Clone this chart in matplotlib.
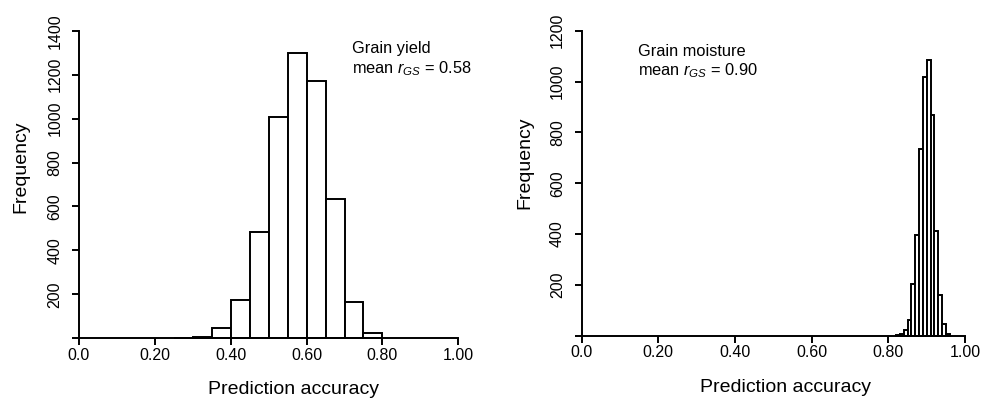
import matplotlib
matplotlib.use("Agg")
import matplotlib.pyplot as plt
import numpy as np

plt.rcParams['font.family'] = ['Liberation Sans', 'DejaVu Sans']
plt.rcParams['mathtext.fontset'] = 'custom'
plt.rcParams['mathtext.rm'] = 'Liberation Sans'
plt.rcParams['mathtext.it'] = 'Liberation Sans:italic'

# grain yield histogram (bin width 0.05)
yield_edges = [0.25, 0.30, 0.35, 0.40, 0.45, 0.50, 0.55, 0.60, 0.65, 0.70, 0.75, 0.80]
yield_counts = [2, 4, 48, 176, 485, 1009, 1297, 1172, 634, 167, 26]

# grain moisture histogram (bin width 0.01)
moist_edges = [0.82, 0.83, 0.84, 0.85, 0.86, 0.87, 0.88, 0.89, 0.90, 0.91,
               0.92, 0.93, 0.94, 0.95, 0.96]
moist_counts = [3, 6, 24, 60, 204, 398, 733, 1018, 1083, 870, 411, 162, 45, 6]

xticks = [0.0, 0.2, 0.4, 0.6, 0.8, 1.0]
xticklabels = ['0.0', '0.20', '0.40', '0.60', '0.80', '1.00']

fig = plt.figure(figsize=(9.98, 4), dpi=100)

W, H = 998.0, 400.0
LW = 1.4

def make_panel(px0, px1, py0, py1, edges, counts, ymax, yticks):
    # axes placed in pixel coords so that the data range matches the reference
    ax = fig.add_axes([px0 / W, 1 - py0 / H, (px1 - px0) / W, (py0 - py1) / H])
    e = np.array(edges)
    ax.bar(e[:-1], counts, width=np.diff(e), align='edge',
           facecolor='white', edgecolor='black', linewidth=LW, clip_on=False)
    ax.set_xlim(0, 1)
    ax.set_ylim(0, ymax)
    for s in ['top', 'right']:
        ax.spines[s].set_visible(False)
    ax.spines['left'].set_bounds(0, ymax)
    ax.spines['bottom'].set_bounds(0, 1)
    for s in ['left', 'bottom']:
        ax.spines[s].set_linewidth(LW)
    ax.set_xticks(xticks)
    ax.set_xticklabels(xticklabels)
    ax.set_yticks([0] + yticks)
    ax.set_yticklabels([''] + [str(v) for v in yticks])
    ax.tick_params(axis='both', length=5, width=LW, labelsize=11.5)
    ax.tick_params(axis='x', pad=2)
    ax.tick_params(axis='y', pad=7, labelrotation=90)
    for lab in ax.get_yticklabels():
        lab.set_va('center')
    ax.patch.set_visible(False)
    return ax

ax1 = make_panel(79, 458.3, 338.3, 30.7, yield_edges, yield_counts, 1400,
                 [200, 400, 600, 800, 1000, 1200, 1400])
ax2 = make_panel(581.7, 965, 335.7, 30.7, moist_edges, moist_counts, 1200,
                 [200, 400, 600, 800, 1000, 1200])

# axis labels
fig.text(21 / W, 1 - 167 / H, 'Frequency', rotation=90, ha='center', va='center', fontsize=14)
fig.text(525 / W, 1 - 163 / H, 'Frequency', rotation=90, ha='center', va='center', fontsize=14)
fig.text(294 / W, 1 - 390 / H, 'Prediction accuracy', ha='center', va='center', fontsize=14)
fig.text(786 / W, 1 - 387 / H, 'Prediction accuracy', ha='center', va='center', fontsize=14)

# annotations
fig.text(352 / W, 1 - 49 / H, 'Grain yield', ha='left', va='center', fontsize=11.8)
fig.text(352 / W, 1 - 69 / H, r'mean $r_{GS}$ = 0.58', ha='left', va='center', fontsize=11.8)
fig.text(638 / W, 1 - 51 / H, 'Grain moisture', ha='left', va='center', fontsize=11.8)
fig.text(638 / W, 1 - 71 / H, r'mean $r_{GS}$ = 0.90', ha='left', va='center', fontsize=11.8)

fig.savefig('out.png', dpi=100)
